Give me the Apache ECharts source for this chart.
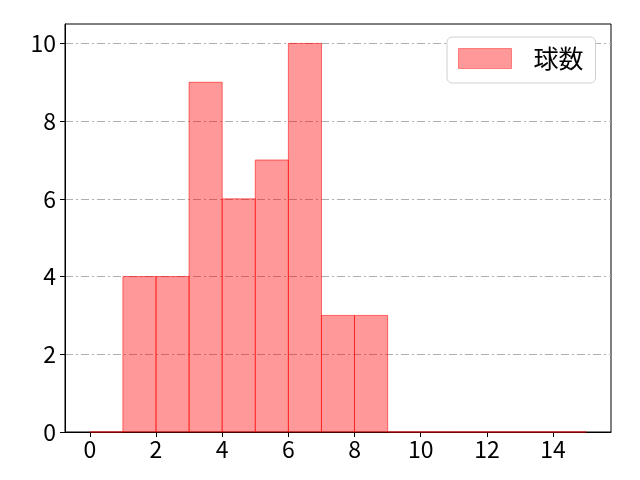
<!DOCTYPE html>
<html>
<head>
<meta charset="utf-8">
<script src="https://cdn.jsdelivr.net/npm/echarts@6/dist/echarts.min.js"></script>
<style>html,body{margin:0;padding:0;background:#fff}#c{width:640px;height:480px}</style>
</head>
<body>
<div id="c"></div>
<script>
const binStarts = [0,1,2,3,4,5,6,7,8,9,10,11,12,13,14];
const binEnds   = [1,2,3,4,5,6,7,8,9,10,11,12,13,14,15];
const counts    = [0,4,4,9,6,7,10,3,3,0,0,0,0,0,0];
const xTicks = [0,2,4,6,8,10,12,14];
const yTicks = [0,2,4,6,8,10];
const seriesName = '球数';

const FONT = '"Noto Sans CJK JP", "DejaVu Sans", sans-serif';
const data = binStarts.map((s,i)=>[s, binEnds[i], counts[i]]);

const chart = echarts.init(document.getElementById('c'));
chart.setOption({
  animation: false,
  grid: {left: 65, right: 29, top: 24, bottom: 48, show: true, borderColor: '#000', borderWidth: 1, backgroundColor: 'transparent'},
  legend: {
    show: true, left: 447, top: 37, data: [{name: seriesName, icon: 'rect'}],
    padding: [9, 12, 12, 11],
    itemWidth: 53, itemHeight: 20,
    backgroundColor: '#fff', borderColor: '#d0d0d0', borderWidth: 1, borderRadius: 5,
    textStyle: {fontFamily: FONT, fontSize: 25, lineHeight: 25, color: '#000', padding: [0,0,0,17]},
    itemStyle: {color: 'rgba(255,0,0,0.4)', borderColor: 'rgba(255,0,0,0.4)', borderWidth: 1}
  },
  xAxis: {
    type: 'value', min: -0.75, max: 15.75,
    axisLine: {show: true, onZero: false, lineStyle: {color: '#000', width: 1}},
    axisTick: {show: true, length: 5, lineStyle: {color: '#000'}, customValues: xTicks},
    axisLabel: {customValues: xTicks, fontFamily: FONT, fontSize: 23, color: '#000', margin: 6},
    splitLine: {show: false}
  },
  yAxis: {
    type: 'value', min: 0, max: 10.5, interval: 2,
    axisLine: {show: true, onZero: false, lineStyle: {color: '#000', width: 1}},
    axisTick: {show: true, length: 5, lineStyle: {color: '#000'}, customValues: yTicks},
    axisLabel: {customValues: yTicks, fontFamily: FONT, fontSize: 23, color: '#000', margin: 9},
    splitLine: {show: true, lineStyle: {color: '#b0b0b0', width: 1, type: [8,3,2,3]}}
  },
  series: [{
    name: seriesName,
    type: 'custom',
    itemStyle: {color: 'rgba(255,0,0,0.4)'},
    encode: {x: [0,1], y: 2},
    data: data,
    renderItem: function(params, api){
      const p0 = api.coord([api.value(0), 0]);
      const p1 = api.coord([api.value(1), api.value(2)]);
      return {
        type: 'rect',
        shape: {x: p0[0], y: p1[1], width: p1[0]-p0[0], height: p0[1]-p1[1]},
        style: {fill: 'rgba(255,0,0,0.4)', stroke: 'rgba(255,0,0,0.55)', lineWidth: 1}
      };
    }
  }]
});
</script>
</body>
</html>
